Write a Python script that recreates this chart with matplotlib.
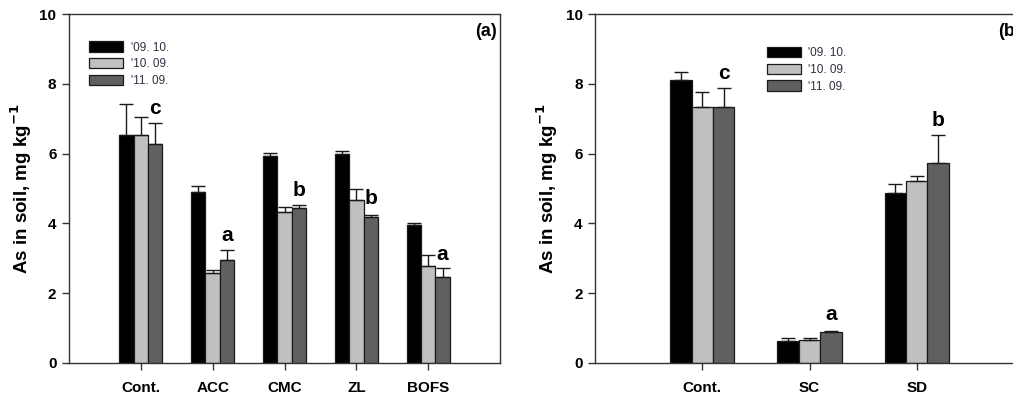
import matplotlib
matplotlib.use("Agg")
import matplotlib.pyplot as plt
import numpy as np

plt.rcParams['font.family'] = ['Liberation Sans', 'DejaVu Sans']

series_labels = ["'09. 10.", "'10. 09.", "'11. 09."]
colors = ["#000000", "#c0c0c0", "#606060"]

cats_a = ["Cont.", "ACC", "CMC", "ZL", "BOFS"]
vals_a_09 = [6.53, 4.90, 5.94, 6.00, 3.94]
vals_a_10 = [6.53, 2.58, 4.33, 4.68, 2.77]
vals_a_11 = [6.28, 2.94, 4.43, 4.19, 2.45]
err_a_09 = [0.88, 0.18, 0.09, 0.07, 0.08]
err_a_10 = [0.53, 0.08, 0.14, 0.32, 0.32]
err_a_11 = [0.60, 0.29, 0.11, 0.06, 0.28]
letters_a = ["c", "a", "b", "b", "a"]
letter_y_a = [7.3, 3.66, 4.93, 4.71, 3.12]

cats_b = ["Cont.", "SC", "SD"]
vals_b_09 = [8.12, 0.63, 4.86]
vals_b_10 = [7.34, 0.67, 5.21]
vals_b_11 = [7.34, 0.88, 5.74]
err_b_09 = [0.22, 0.08, 0.28]
err_b_10 = [0.43, 0.04, 0.15]
err_b_11 = [0.53, 0.04, 0.78]
letters_b = ["c", "a", "b"]
letter_y_b = [8.3, 1.40, 6.94]

fig = plt.figure(figsize=(10.13, 3.96), dpi=100)
W, H = 1013, 396
ax1 = fig.add_axes([69 / W, 1 - 363 / H, 431 / W, 349 / H])
ax2 = fig.add_axes([595 / W, 1 - 363 / H, 429 / W, 349 / H])

spine_col = "#333333"


def draw(ax, cats, vals, errs, letters, letter_y, xmax, panel, leg_pos):
    x = np.arange(1, len(cats) + 1)
    w = 0.2
    handles = []
    for i, (v, e) in enumerate(zip(vals, errs)):
        xs = x + (i - 1) * w
        b = ax.bar(xs, v, width=w, color=colors[i], edgecolor="#1a1a1a",
                   linewidth=0.9, label=series_labels[i], zorder=2)
        ax.errorbar(xs, v, yerr=[np.zeros(len(v)), e], fmt="none",
                    ecolor="#1a1a1a", elinewidth=1.0, capsize=5, capthick=1.0,
                    zorder=3)
        handles.append(b)
    for xi, lt, ly in zip(x, letters, letter_y):
        ax.text(xi + w, ly, lt, ha="center", va="center", fontsize=15,
                fontweight="bold", color="#000000")
    ax.set_xlim(0, xmax)
    ax.set_ylim(0, 10)
    ax.set_xticks(x)
    ax.set_xticklabels(cats, fontsize=11, fontweight="bold")
    ax.set_yticks(np.arange(0, 11, 2))
    ax.set_yticklabels([str(t) for t in range(0, 11, 2)], fontsize=11,
                       fontweight="bold")
    ax.tick_params(axis="both", direction="out", length=5, width=1,
                   color=spine_col, pad=4)
    ax.tick_params(axis="x", pad=8)
    for s in ax.spines.values():
        s.set_color(spine_col)
        s.set_linewidth(1.0)
    ax.set_ylabel("As in soil, mg kg$^{\\mathbf{-1}}$", fontsize=13.5,
                  fontweight="bold", labelpad=4)
    ax.text(0.992, 0.95, panel, transform=ax.transAxes, ha="right",
            va="center", fontsize=13, fontweight="bold")
    ax.legend(handles=handles, loc="upper left", bbox_to_anchor=leg_pos,
              frameon=False, fontsize=8.5, handlelength=2.9, handleheight=0.95,
              labelspacing=0.4, handletextpad=0.6, borderaxespad=0,
              labelcolor="#303040")


draw(ax1, cats_a, [vals_a_09, vals_a_10, vals_a_11],
     [err_a_09, err_a_10, err_a_11], letters_a, letter_y_a, 6, "(a)",
     (0.036, 0.935))
draw(ax2, cats_b, [vals_b_09, vals_b_10, vals_b_11],
     [err_b_09, err_b_10, err_b_11], letters_b, letter_y_b, 4, "(b)",
     (0.39, 0.92))

fig.savefig("out.png", dpi=100)
